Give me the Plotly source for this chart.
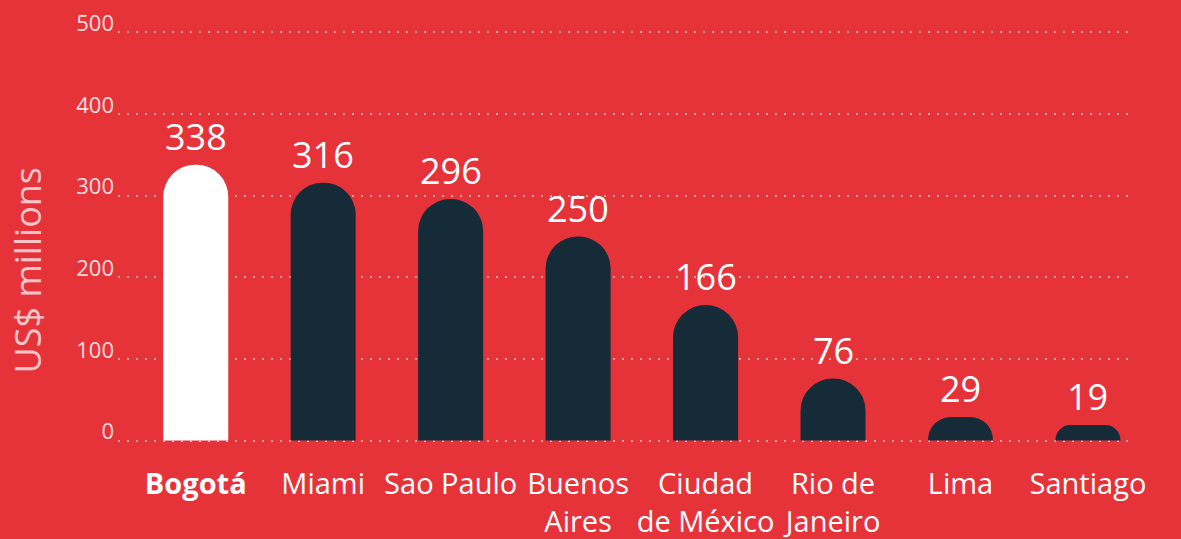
import plotly.graph_objects as go

cities = ["<b>Bogotá</b>", "Miami", "Sao Paulo", "Buenos<br>Aires", "Ciudad<br>de México",
          "Rio de<br>Janeiro", "Lima", "Santiago"]
values = [338, 316, 296, 250, 166, 76, 29, 19]
value_labels = ["338", "316", "296", "250", "166", "76", "29", "19"]
y_ticks = [0, 100, 200, 300, 400, 500]

BG = "#E6333A"
NAVY = "#162B38"
colors = ["#FFFFFF"] + [NAVY] * (len(cities) - 1)
FONT = "Open Sans"

x_pos = list(range(len(cities)))

fig = go.Figure()
fig.add_trace(go.Bar(
    x=x_pos, y=values,
    marker=dict(color=colors, line=dict(width=0), cornerradius="50%"),
    width=0.51, hoverinfo="skip",
))

annotations = [dict(
    x=xi, y=v, xref="x", yref="y", text=t, showarrow=False,
    xanchor="center", yanchor="bottom", yshift=2,
    font=dict(family=FONT, size=36, color="white"),
) for xi, v, t in zip(x_pos, values, value_labels)]

annotations.append(dict(
    text="US$ millions", xref="paper", yref="paper",
    x=-0.089, y=0.42, xanchor="center", yanchor="middle",
    textangle=-90, showarrow=False,
    font=dict(family=FONT, size=36, color="rgba(255,255,255,0.72)"),
))

fig.update_layout(
    width=1181, height=539,
    paper_bgcolor=BG, plot_bgcolor=BG,
    margin=dict(l=118, r=51, t=30, b=96),
    showlegend=False,
    font=dict(family=FONT, color="white"),
    xaxis=dict(
        tickmode="array", tickvals=x_pos, ticktext=cities,
        range=[-0.61, 7.33], showgrid=False, zeroline=False, showline=False,
        ticks="", tickfont=dict(family=FONT, size=29, color="white"),
        ticklabelstandoff=21, automargin=False,
    ),
    yaxis=dict(
        range=[-3, 503], tickvals=y_ticks, showline=False, zeroline=False,
        showgrid=True, gridcolor="rgba(255,255,255,0.55)", gridwidth=1.5,
        griddash="2px,7px", automargin=False,
        ticks="", tickfont=dict(family=FONT, size=22, color="rgba(255,255,255,0.85)"),
        ticklabelstandoff=3, ticklabelshift=-9,
    ),
    annotations=annotations,
)

fig.write_html("out.html", config={"displayModeBar": False},
               post_script="document.body.style.margin='0';document.body.style.padding='0';")
